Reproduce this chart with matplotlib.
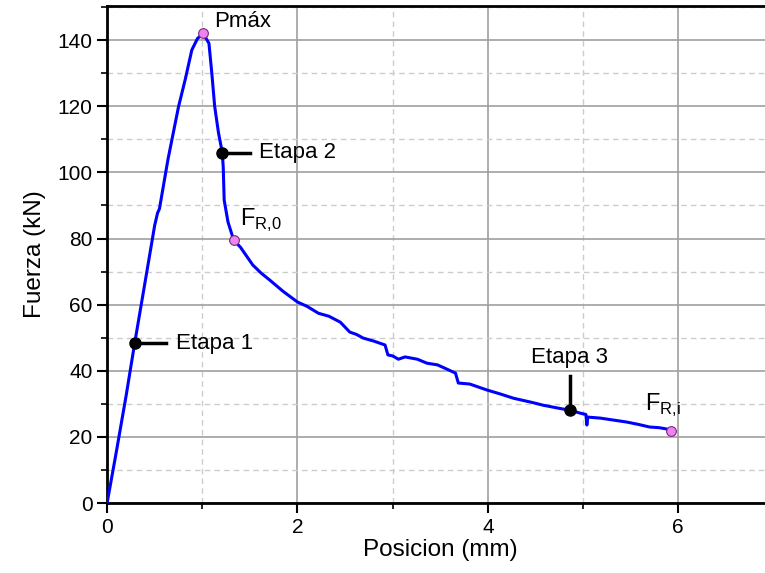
import numpy as np
import matplotlib.pyplot as plt
from matplotlib.ticker import MultipleLocator

plt.rcParams['font.family'] = ['Liberation Sans', 'DejaVu Sans']
plt.rcParams['mathtext.fontset'] = 'custom'
plt.rcParams['mathtext.rm'] = 'Liberation Sans'

# curva fuerza-desplazamiento del ensayo
posicion = [0.00, 0.10, 0.20, 0.29, 0.40, 0.50, 0.53, 0.55, 0.64, 0.75, 0.82,
            0.89, 0.95, 1.01, 1.07, 1.10, 1.13, 1.17, 1.21, 1.22, 1.23, 1.27,
            1.33, 1.40, 1.47, 1.53, 1.62, 1.71, 1.85, 2.00, 2.10, 2.22, 2.33,
            2.45, 2.55, 2.62, 2.69, 2.80, 2.92, 2.95, 3.00, 3.06, 3.13, 3.26,
            3.36, 3.47, 3.57, 3.66, 3.69, 3.81, 3.99, 4.13, 4.27, 4.47, 4.58,
            4.76, 4.86, 4.97, 5.03, 5.04, 5.05, 5.18, 5.32, 5.46, 5.58, 5.70,
            5.80, 5.88, 5.92]
fuerza = [0.0, 16.0, 32.5, 48.4, 67.0, 84.0, 87.7, 89.0, 104.0, 119.8, 128.0,
          137.0, 140.5, 142.0, 139.0, 130.0, 120.0, 112.0, 106.0, 101.6, 91.6, 85.0,
          79.5, 77.4, 74.5, 72.0, 69.5, 67.4, 64.0, 60.8, 59.5, 57.4, 56.5,
          54.7, 51.7, 51.0, 49.9, 49.0, 47.8, 44.8, 44.5, 43.5, 44.2, 43.5,
          42.3, 41.8, 40.5, 39.3, 36.3, 36.0, 34.2, 33.0, 31.7, 30.4, 29.6,
          28.6, 28.1, 27.2, 26.8, 23.6, 26.0, 25.7, 25.1, 24.5, 23.8, 23.0,
          22.8, 22.4, 21.8]

# puntos singulares
pmax = (1.01, 142.0)
fr0 = (1.33, 79.5)
fri = (5.92, 21.8)

# etapas: punto, extremo de la flecha, texto
etapas = [
    ('Etapa 1', (0.29, 48.4), (0.62, 48.4), (0.72, 48.4)),
    ('Etapa 2', (1.21, 106.0), (1.50, 106.0), (1.60, 106.0)),
    ('Etapa 3', (4.86, 28.1), (4.86, 38.5), (4.86, 44.0)),
]

fig = plt.figure(figsize=(7.65, 5.73), dpi=100)
ax = fig.add_axes([0.14, 0.122, 0.871, 0.8675])

ax.plot(posicion, fuerza, color='#0000ff', lw=2.2, zorder=3)

for nombre, p, q, t in etapas:
    ax.plot([p[0], q[0]], [p[1], q[1]], color='black', lw=2.5, zorder=4)
    ax.plot(*p, 'o', color='black', ms=8, zorder=5)
    if nombre == 'Etapa 3':
        ax.text(t[0], t[1], nombre, fontsize=16, ha='center', va='center')
    else:
        ax.text(t[0], t[1], nombre, fontsize=16, ha='left', va='center')

for pt in (pmax, fr0, fri):
    ax.plot(*pt, 'o', color='#ee82ee', mec='#7a2a7a', mew=0.8, ms=7, zorder=6)

ax.text(1.12, 145.5, 'Pmáx', fontsize=16, ha='left', va='center')
ax.text(1.40, 85.5, r'$\mathrm{F}_{\mathrm{R{,}0}}$', fontsize=17, ha='left', va='center')
ax.text(5.65, 29.5, r'$\mathrm{F}_{\mathrm{R{,}i}}$', fontsize=17, ha='left', va='center')

ax.set_xlim(0, 7)
ax.set_ylim(0, 150.3)
ax.xaxis.set_major_locator(MultipleLocator(2))
ax.xaxis.set_minor_locator(MultipleLocator(1))
ax.yaxis.set_major_locator(MultipleLocator(20))
ax.yaxis.set_minor_locator(MultipleLocator(10))
ax.set_yticks(np.arange(0, 141, 20))

ax.grid(which='major', color='#a0a0a0', lw=1.2, ls='-')
ax.grid(which='minor', color='#cccccc', lw=1.0, ls=(0, (4, 3)))
ax.set_axisbelow(True)

ax.spines['right'].set_visible(False)
for s in ('left', 'bottom', 'top'):
    ax.spines[s].set_linewidth(2)
ax.tick_params(which='major', direction='out', length=7, width=1.5, labelsize=15)
ax.tick_params(which='minor', direction='out', length=4, width=1.2)

ax.set_xlabel('Posicion (mm)', fontsize=17.5, labelpad=2)
ax.set_ylabel('Fuerza (kN)', fontsize=17.5, labelpad=8)

fig.savefig('out.png', dpi=100)
